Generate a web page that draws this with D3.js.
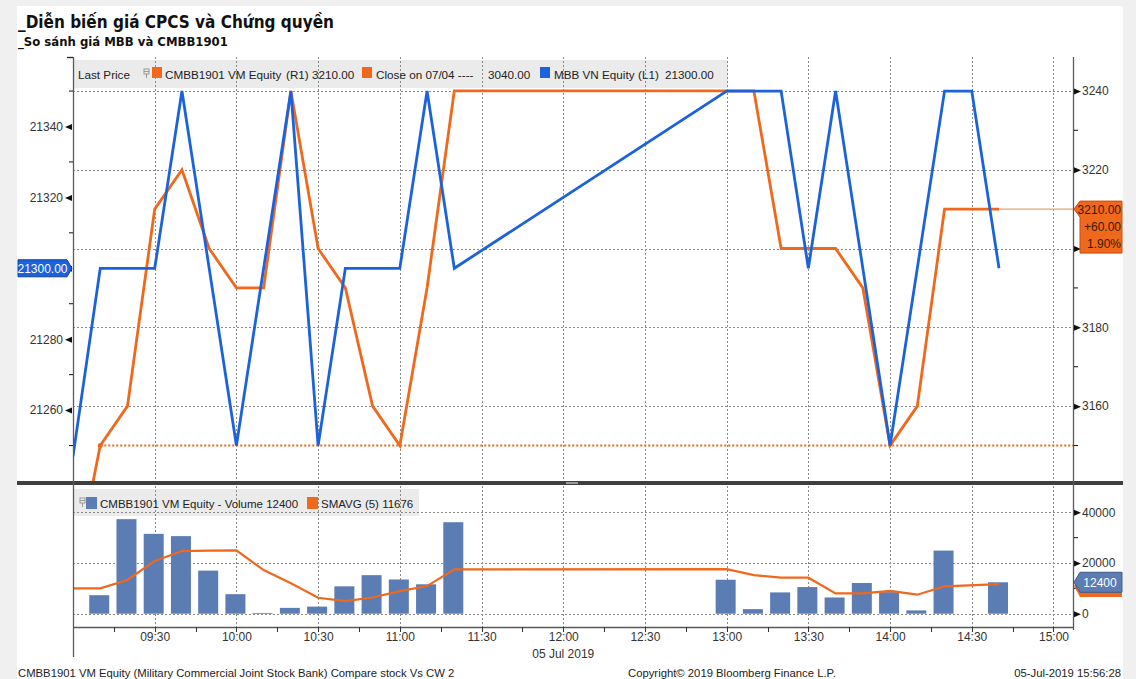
<!DOCTYPE html>
<html>
<head>
<meta charset="utf-8">
<script src="https://cdnjs.cloudflare.com/ajax/libs/d3/7.8.5/d3.min.js"></script>
<style>
  body { margin: 0; background: #f0f0f0; }
  svg text { font-family: "Liberation Sans", Arial, sans-serif; }
</style>
</head>
<body>
<svg id="chart"></svg>
<script>
var svgWidth = 1136;
var svgHeight = 679;

// --- data ---
var cwTimes = ["09:00", "09:10", "09:20", "09:30", "09:40", "09:50", "10:00", "10:10", "10:20", "10:30", "10:40",
    "10:50", "11:00", "11:10", "11:20", "13:10", "13:20", "13:40", "13:50", "14:00", "14:10", "14:20", "14:40"];
var cwPrices = [3115, 3150, 3160, 3210, 3220, 3200, 3190, 3190, 3240, 3200, 3190,
    3160, 3150, 3190, 3240, 3240, 3200, 3200, 3190, 3150, 3160, 3210, 3210];

var mbbTimes = ["09:00", "09:10", "09:30", "09:40", "10:00", "10:20", "10:30", "10:40", "11:00", "11:10", "11:20",
    "13:00", "13:20", "13:30", "13:40", "14:00", "14:20", "14:30", "14:40"];
var mbbPrices = [21247, 21300, 21300, 21350, 21250, 21350, 21250, 21300, 21300, 21350, 21300,
    21350, 21350, 21300, 21350, 21250, 21350, 21350, 21300];

var volTimes = ["09:10", "09:20", "09:30", "09:40", "09:50", "10:00", "10:10", "10:20", "10:30", "10:40", "10:50",
    "11:00", "11:10", "11:20", "13:00", "13:10", "13:20", "13:30", "13:40", "13:50", "14:00", "14:10", "14:20", "14:40"];
var volumes = [7300, 37300, 31500, 30600, 17000, 7700, 300, 2300, 2800, 10800, 15200,
    13500, 11600, 36100, 13400, 1800, 8400, 10500, 6400, 12100, 8500, 1300, 24900, 12400];

var smaTimes = ["09:00", "09:10", "09:20", "09:30", "09:40", "09:50", "10:00", "10:10", "10:20", "10:30", "10:40", "10:50",
    "11:00", "11:10", "11:20", "13:00", "13:10", "13:20", "13:30", "13:40", "13:50", "14:00", "14:10", "14:20", "14:40"];
var smaValues = [10000, 10000, 13300, 20800, 24700, 24900, 25000, 17200, 12000, 6300, 5000, 6400,
    8900, 10900, 17500, 17600, 15200, 14200, 14200, 8000, 8000, 9000, 7500, 10800, 11676];

var timeTicks = ["09:30", "10:00", "10:30", "11:00", "11:30", "12:00", "12:30", "13:00", "13:30", "14:00", "14:30", "15:00"];
var leftTicks = [21260, 21280, 21300, 21320, 21340];
var leftMinor = [21250, 21270, 21290, 21310, 21330, 21350];
var rightTicks = [3160, 3180, 3200, 3220, 3240];
var rightMinor = [3150, 3170, 3190, 3210, 3230];
var volTicks = [0, 20000, 40000];
var volMinor = [10000, 30000];
var refLevel = 3150;   // dotted "close" line

var blue = "#1b62dc";
var orange = "#f0681c";
var barBlue = "#5b7db3";

var parseTime = d3.timeParse("%H:%M");

// plot frame
var left = 73, right = 1073;
var topY = 57, topBottom = 481;
var volTop = 486, volBottom = 627;

var svg = d3.select("#chart")
    .attr("width", svgWidth)
    .attr("height", svgHeight);

svg.append("rect")
    .attr("x", 17).attr("y", 6)
    .attr("width", 1106).attr("height", 673)
    .attr("fill", "#ffffff");

var xScale = d3.scaleTime()
    .domain([parseTime("09:00"), new Date(parseTime("15:07").getTime() + 10000)])
    .range([left, right]);

var yLeft = d3.scaleLinear().domain([21240, 21359.6]).range([topBottom, topY]);
var yRight = d3.scaleLinear().domain([3141, 3248.6]).range([topBottom, topY]);
var yVol = d3.scaleLinear().domain([0, 40000]).range([613.7, 512.3]);

var cwData = cwTimes.map((t, i) => ({ t: parseTime(t), v: cwPrices[i] }));
var mbbData = mbbTimes.map((t, i) => ({ t: parseTime(t), v: mbbPrices[i] }));
var volData = volTimes.map((t, i) => ({ t: parseTime(t), v: volumes[i] }));
var smaData = smaTimes.map((t, i) => ({ t: parseTime(t), v: smaValues[i] }));
var tickDates = timeTicks.map(parseTime);

var lastMbb = mbbPrices[mbbPrices.length - 1];
var lastCw = cwPrices[cwPrices.length - 1];

// clip paths
var defs = svg.append("defs");
defs.append("clipPath").attr("id", "clipTop")
    .append("rect").attr("x", left).attr("y", topY).attr("width", right - left).attr("height", topBottom - topY);
defs.append("clipPath").attr("id", "clipVol")
    .append("rect").attr("x", left).attr("y", volTop).attr("width", right - left).attr("height", volBottom - volTop);

// ---------- titles ----------
svg.append("text")
    .attr("x", 18).attr("y", 28)
    .style("font-family", "'DejaVu Sans Condensed', 'DejaVu Sans', sans-serif")
    .style("font-weight", "bold")
    .style("font-size", "17px")
    .attr("fill", "#111")
    .text("_Diễn biến giá CPCS và Chứng quyền");

svg.append("text")
    .attr("x", 18).attr("y", 46)
    .style("font-family", "'DejaVu Sans', sans-serif")
    .style("font-weight", "bold")
    .style("font-size", "11.7px")
    .attr("fill", "#111")
    .text("_So sánh giá MBB và CMBB1901");

// ---------- legend backgrounds ----------
svg.append("rect").attr("x", left + 1).attr("y", 60).attr("width", 654).attr("height", 28).attr("fill", "#ebebeb");
svg.append("rect").attr("x", left + 1).attr("y", 489).attr("width", 345).attr("height", 27).attr("fill", "#ebebeb");

// ---------- grid ----------
var grid = svg.append("g")
    .attr("stroke", "#8a8a8a")
    .attr("stroke-width", 1)
    .attr("stroke-dasharray", "2,2");

grid.selectAll(".hTop")
    .data(rightTicks)
    .enter()
    .append("line")
    .attr("x1", left).attr("x2", right)
    .attr("y1", d => Math.round(yRight(d)) + 0.5)
    .attr("y2", d => Math.round(yRight(d)) + 0.5);

grid.selectAll(".vTop")
    .data(tickDates)
    .enter()
    .append("line")
    .attr("x1", d => Math.round(xScale(d)) + 0.5)
    .attr("x2", d => Math.round(xScale(d)) + 0.5)
    .attr("y1", topY).attr("y2", topBottom);

grid.selectAll(".hVol")
    .data(volTicks)
    .enter()
    .append("line")
    .attr("x1", left).attr("x2", right)
    .attr("y1", d => Math.round(yVol(d)) + 0.5)
    .attr("y2", d => Math.round(yVol(d)) + 0.5);

grid.selectAll(".vVol")
    .data(tickDates)
    .enter()
    .append("line")
    .attr("x1", d => Math.round(xScale(d)) + 0.5)
    .attr("x2", d => Math.round(xScale(d)) + 0.5)
    .attr("y1", volTop).attr("y2", volBottom);

// ---------- top panel lines ----------
var topG = svg.append("g").attr("clip-path", "url(#clipTop)");

// reference (close) dotted line
topG.append("line")
    .attr("x1", xScale(parseTime("09:10"))).attr("x2", right)
    .attr("y1", yRight(refLevel)).attr("y2", yRight(refLevel))
    .attr("stroke", orange)
    .attr("stroke-width", 2)
    .attr("stroke-dasharray", "2,2");

topG.append("circle")
    .attr("cx", xScale(parseTime("09:10"))).attr("cy", yRight(refLevel))
    .attr("r", 2.5)
    .attr("fill", orange);

// last price extension
topG.append("line")
    .attr("x1", xScale(cwData[cwData.length - 1].t)).attr("x2", right)
    .attr("y1", yRight(lastCw)).attr("y2", yRight(lastCw))
    .attr("stroke", "#e8a070")
    .attr("stroke-width", 1.2);

var cwLine = d3.line()
    .x(d => xScale(d.t))
    .y(d => yRight(d.v));

var mbbLine = d3.line()
    .x(d => xScale(d.t))
    .y(d => yLeft(d.v));

topG.append("path")
    .datum(cwData)
    .attr("d", cwLine)
    .attr("fill", "none")
    .attr("stroke", orange)
    .attr("stroke-width", 2.8);

topG.append("path")
    .datum(mbbData)
    .attr("d", mbbLine)
    .attr("fill", "none")
    .attr("stroke", blue)
    .attr("stroke-width", 2.8);

// ---------- volume panel ----------
var volG = svg.append("g").attr("clip-path", "url(#clipVol)");

volG.selectAll("rect.bar")
    .data(volData)
    .enter()
    .append("rect")
    .attr("class", "bar")
    .attr("x", d => xScale(d.t) - 11)
    .attr("width", 20)
    .attr("y", d => yVol(d.v))
    .attr("height", d => yVol(0) - yVol(d.v))
    .attr("fill", barBlue);

var smaLine = d3.line()
    .x(d => xScale(d.t))
    .y(d => yVol(d.v));

volG.append("path")
    .datum(smaData)
    .attr("d", smaLine)
    .attr("fill", "none")
    .attr("stroke", orange)
    .attr("stroke-width", 2.2);

// ---------- separator ----------
svg.append("rect").attr("x", 17).attr("y", 481).attr("width", 1106).attr("height", 4).attr("fill", "#3f3f3f");
svg.append("rect").attr("x", 566).attr("y", 482).attr("width", 12).attr("height", 2).attr("fill", "#9a9a9a");

// ---------- axis lines ----------
var axisColor = "#5a5a5a";
svg.append("line").attr("x1", left + 0.5).attr("x2", left + 0.5).attr("y1", topY).attr("y2", 657)
    .attr("stroke", axisColor).attr("stroke-width", 1.3);
svg.append("line").attr("x1", right + 0.5).attr("x2", right + 0.5).attr("y1", topY).attr("y2", 630)
    .attr("stroke", axisColor).attr("stroke-width", 1.3);
svg.append("line").attr("x1", left).attr("x2", right).attr("y1", volBottom + 0.5).attr("y2", volBottom + 0.5)
    .attr("stroke", axisColor).attr("stroke-width", 1.3);
svg.append("line").attr("x1", left - 6).attr("x2", left).attr("y1", topY + 0.5).attr("y2", topY + 0.5)
    .attr("stroke", "#222").attr("stroke-width", 1.3);

// left axis (MBB) - the 21300 label sits under the last-value tag
var leftAxis = svg.append("g")
    .attr("transform", `translate(${left}, 0)`)
    .call(d3.axisLeft(yLeft).tickValues(leftTicks).tickSize(0).tickPadding(10)
        .tickFormat(d => d === lastMbb ? "" : d3.format("d")(d)));
leftAxis.select(".domain").remove();
leftAxis.selectAll(".tick text").style("font-size", "12px").attr("fill", "#333");
leftAxis.selectAll(".tick").append("path").attr("d", "M-8,0L-1,-3L-1,3Z").attr("fill", "#111");
leftAxis.selectAll(".minor")
    .data(leftMinor)
    .enter()
    .append("line")
    .attr("x1", -4).attr("x2", 0)
    .attr("y1", d => yLeft(d)).attr("y2", d => yLeft(d))
    .attr("stroke", "#111");

// right axis (CMBB1901) - 3200 is covered by the last-value tag
var rightAxis = svg.append("g")
    .attr("transform", `translate(${right + 1}, 0)`)
    .call(d3.axisRight(yRight).tickValues(rightTicks).tickSize(0).tickPadding(8)
        .tickFormat(d => d === 3200 ? "" : d3.format("d")(d)));
rightAxis.select(".domain").remove();
rightAxis.selectAll(".tick text").style("font-size", "12px").attr("fill", "#333");
rightAxis.selectAll(".tick").append("path").attr("d", "M7,0L0,-3L0,3Z").attr("fill", "#111");
rightAxis.selectAll(".minor")
    .data(rightMinor)
    .enter()
    .append("line")
    .attr("x1", 0).attr("x2", 4)
    .attr("y1", d => yRight(d)).attr("y2", d => yRight(d))
    .attr("stroke", "#111");

// volume axis
var volAxis = svg.append("g")
    .attr("transform", `translate(${right + 1}, 0)`)
    .call(d3.axisRight(yVol).tickValues(volTicks).tickSize(0).tickPadding(8).tickFormat(d3.format("d")));
volAxis.select(".domain").remove();
volAxis.selectAll(".tick text").style("font-size", "12px").attr("fill", "#333");
volAxis.selectAll(".tick").append("path").attr("d", "M7,0L0,-3L0,3Z").attr("fill", "#111");
volAxis.selectAll(".minor")
    .data(volMinor)
    .enter()
    .append("line")
    .attr("x1", 0).attr("x2", 4)
    .attr("y1", d => yVol(d)).attr("y2", d => yVol(d))
    .attr("stroke", "#111");

// time axis
var quarterTicks = d3.timeMinute.every(15).range(parseTime("09:15"), parseTime("15:01"));
var timeAxis = svg.append("g")
    .attr("transform", `translate(0, ${volBottom})`)
    .call(d3.axisBottom(xScale).tickValues(tickDates).tickSize(0).tickPadding(5).tickFormat(d3.timeFormat("%H:%M")));
timeAxis.select(".domain").remove();
timeAxis.selectAll(".tick text").style("font-size", "12px").attr("fill", "#333");
timeAxis.selectAll(".qt")
    .data(quarterTicks)
    .enter()
    .append("line")
    .attr("x1", d => Math.round(xScale(d)) + 0.5).attr("x2", d => Math.round(xScale(d)) + 0.5)
    .attr("y1", 0).attr("y2", 5)
    .attr("stroke", "#333");

svg.append("text")
    .attr("x", xScale(parseTime("12:00"))).attr("y", 658)
    .attr("text-anchor", "middle")
    .style("font-size", "12px")
    .attr("fill", "#333")
    .text("05 Jul 2019");

// ---------- value labels on axes ----------
var ly = yLeft(lastMbb);
svg.append("path")
    .attr("d", `M18,${ly - 8.5}H67L72,${ly}L67,${ly + 8.5}H18Z`)
    .attr("fill", blue).attr("stroke", "#0d3f9c");
svg.append("text")
    .attr("x", 42.5).attr("y", ly + 4.5)
    .attr("text-anchor", "middle")
    .style("font-size", "12px")
    .attr("fill", "#fff")
    .text(d3.format(".2f")(lastMbb));

var ry = yRight(lastCw);
svg.append("path")
    .attr("d", `M1074,${ry}L1080,${ry - 8}H1122V${ry + 44}H1080V${ry + 8}Z`)
    .attr("fill", orange).attr("stroke", "#c84d0c");
var rlab = svg.append("text")
    .attr("text-anchor", "end")
    .style("font-size", "12px")
    .attr("fill", "#3a1a00");
rlab.append("tspan").attr("x", 1121).attr("y", ry + 4.5).text(d3.format(".2f")(lastCw));
rlab.append("tspan").attr("x", 1121).attr("y", ry + 22).text("+" + d3.format(".2f")(lastCw - refLevel));
rlab.append("tspan").attr("x", 1121).attr("y", ry + 39).text(d3.format(".2f")((lastCw - refLevel) / 3150 * 100) + "%");

var lastSma = smaValues[smaValues.length - 1];
var sy = yVol(lastSma);
svg.append("path")
    .attr("d", `M1074,${sy + 2}L1080,${sy - 6}H1122V${sy + 13}H1080Z`)
    .attr("fill", orange);
var lastVol = volumes[volumes.length - 1];
var vy = yVol(lastVol);
svg.append("path")
    .attr("d", `M1074,${vy}L1080,${vy - 10}H1122V${vy + 10}H1080Z`)
    .attr("fill", barBlue).attr("stroke", "#3d5a8a");
svg.append("text")
    .attr("x", 1100).attr("y", vy + 4.5)
    .attr("text-anchor", "middle")
    .style("font-size", "12px")
    .attr("fill", "#fff")
    .text(lastVol);

// ---------- legends ----------
function pin(g, x, y) {
    g.append("rect").attr("x", x).attr("y", y).attr("width", 5).attr("height", 5)
        .attr("fill", "none").attr("stroke", "#999");
    g.append("line").attr("x1", x + 2.5).attr("x2", x + 2.5).attr("y1", y + 5).attr("y2", y + 9).attr("stroke", "#999");
    g.append("line").attr("x1", x).attr("x2", x + 5).attr("y1", y + 2.5).attr("y2", y + 2.5).attr("stroke", "#999");
}

var legTop = svg.append("g").style("font-size", "11.7px").attr("fill", "#222");
legTop.append("text").attr("x", 78).attr("y", 79).text("Last Price");
pin(legTop, 144, 69);
legTop.append("rect").attr("x", 152).attr("y", 67).attr("width", 10).attr("height", 11).attr("fill", orange);
legTop.append("text").attr("x", 165).attr("y", 79).text("CMBB1901 VM Equity");
legTop.append("text").attr("x", 286).attr("y", 79).text("(R1)");
legTop.append("text").attr("x", 312).attr("y", 79).text("3210.00");
legTop.append("rect").attr("x", 362).attr("y", 67).attr("width", 10).attr("height", 11).attr("fill", orange);
legTop.append("text").attr("x", 376).attr("y", 79).text("Close on 07/04 ----");
legTop.append("text").attr("x", 488).attr("y", 79).text("3040.00");
legTop.append("rect").attr("x", 540).attr("y", 67).attr("width", 10).attr("height", 11).attr("fill", blue);
legTop.append("text").attr("x", 554).attr("y", 79).text("MBB VN Equity");
legTop.append("text").attr("x", 638).attr("y", 79).text("(L1)");
legTop.append("text").attr("x", 665).attr("y", 79).text("21300.00");

var legVol = svg.append("g").style("font-size", "11.5px").attr("fill", "#222");
pin(legVol, 80, 498);
legVol.append("rect").attr("x", 86).attr("y", 497).attr("width", 11).attr("height", 12).attr("fill", barBlue);
legVol.append("text").attr("x", 100).attr("y", 508).text("CMBB1901 VM Equity - Volume 12400");
legVol.append("rect").attr("x", 307).attr("y", 497).attr("width", 11).attr("height", 12).attr("fill", orange);
legVol.append("text").attr("x", 321).attr("y", 508).text("SMAVG (5) 11676");

// ---------- footer ----------
var foot = svg.append("g").style("font-size", "11.3px").attr("fill", "#222");
foot.append("text").attr("x", 18).attr("y", 677)
    .text("CMBB1901 VM Equity (Military Commercial Joint Stock Bank) Compare stock Vs CW 2");
foot.append("text").attr("x", 628).attr("y", 677).text("Copyright© 2019 Bloomberg Finance L.P.");
foot.append("text").attr("x", 1121).attr("y", 677).attr("text-anchor", "end").text("05-Jul-2019 15:56:28");
</script>
</body>
</html>
